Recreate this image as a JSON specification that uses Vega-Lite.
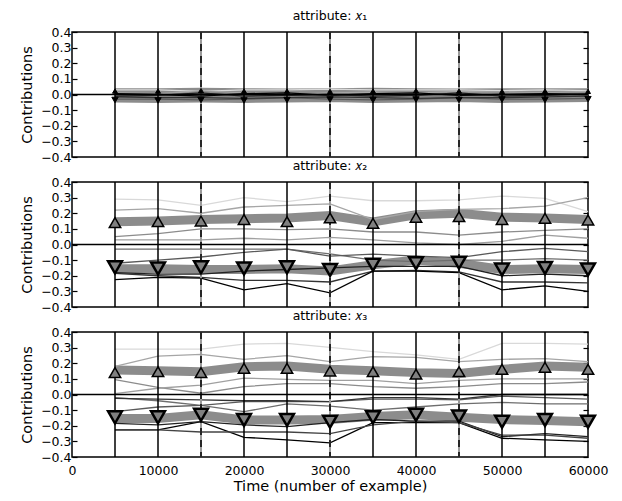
{
"$schema": "https://vega.github.io/schema/vega-lite/v6.json",
"background": "white",
"padding": {"left": 18, "top": 8, "right": 5, "bottom": 3},
"spacing": -7,
"config": {
 "view": {"stroke": "black", "strokeWidth": 1.5},
 "font": "DejaVu Sans",
 "axis": {"domain": false, "grid": false, "tickColor": "black", "tickWidth": 1.2, "labelColor": "black", "labelFont": "DejaVu Sans", "labelFontSize": 12.5, "titleFont": "DejaVu Sans", "titleFontSize": 14.5, "titleFontWeight": "normal", "titleColor": "black"},
 "axisY": {"tickSize": -5},
 "title": {"font": "DejaVu Sans", "fontSize": 12.5, "fontWeight": "normal", "color": "black", "offset": 4, "anchor": "middle"}
},
"datasets": {
 "vlines": [{"x":5000,"t":"s"},{"x":10000,"t":"s"},{"x":15000,"t":"d"},{"x":20000,"t":"s"},{"x":25000,"t":"s"},{"x":30000,"t":"d"},{"x":35000,"t":"s"},{"x":40000,"t":"s"},{"x":45000,"t":"d"},{"x":50000,"t":"s"},{"x":55000,"t":"s"}],
 "lines": [
{"p":1,"s":"A","x":5000,"y":0.03},{"p":1,"s":"A","x":10000,"y":0.03},{"p":1,"s":"A","x":15000,"y":0.02},{"p":1,"s":"A","x":20000,"y":0.03},{"p":1,"s":"A","x":25000,"y":0.03},{"p":1,"s":"A","x":30000,"y":0.035},{"p":1,"s":"A","x":35000,"y":0.03},{"p":1,"s":"A","x":40000,"y":0.03},{"p":1,"s":"A","x":45000,"y":0.03},{"p":1,"s":"A","x":50000,"y":0.025},{"p":1,"s":"A","x":55000,"y":0.03},{"p":1,"s":"A","x":60000,"y":0.025},
{"p":1,"s":"B","x":5000,"y":0.01},{"p":1,"s":"B","x":10000,"y":0.005},{"p":1,"s":"B","x":15000,"y":0.02},{"p":1,"s":"B","x":20000,"y":0.01},{"p":1,"s":"B","x":25000,"y":0},{"p":1,"s":"B","x":30000,"y":0.01},{"p":1,"s":"B","x":35000,"y":0.015},{"p":1,"s":"B","x":40000,"y":0.01},{"p":1,"s":"B","x":45000,"y":0.02},{"p":1,"s":"B","x":50000,"y":0.015},{"p":1,"s":"B","x":55000,"y":0.01},{"p":1,"s":"B","x":60000,"y":0.02},
{"p":1,"s":"C","x":5000,"y":-0.005},{"p":1,"s":"C","x":10000,"y":-0.01},{"p":1,"s":"C","x":15000,"y":0.02},{"p":1,"s":"C","x":20000,"y":0},{"p":1,"s":"C","x":25000,"y":-0.01},{"p":1,"s":"C","x":30000,"y":0.005},{"p":1,"s":"C","x":35000,"y":0},{"p":1,"s":"C","x":40000,"y":-0.01},{"p":1,"s":"C","x":45000,"y":0},{"p":1,"s":"C","x":50000,"y":0.01},{"p":1,"s":"C","x":55000,"y":0.005},{"p":1,"s":"C","x":60000,"y":0.01},
{"p":1,"s":"F","x":5000,"y":-0.03},{"p":1,"s":"F","x":10000,"y":-0.03},{"p":1,"s":"F","x":15000,"y":-0.035},{"p":1,"s":"F","x":20000,"y":-0.03},{"p":1,"s":"F","x":25000,"y":-0.02},{"p":1,"s":"F","x":30000,"y":-0.03},{"p":1,"s":"F","x":35000,"y":-0.035},{"p":1,"s":"F","x":40000,"y":-0.03},{"p":1,"s":"F","x":45000,"y":-0.02},{"p":1,"s":"F","x":50000,"y":-0.03},{"p":1,"s":"F","x":55000,"y":-0.03},{"p":1,"s":"F","x":60000,"y":-0.025},
{"p":1,"s":"G","x":5000,"y":-0.015},{"p":1,"s":"G","x":10000,"y":-0.02},{"p":1,"s":"G","x":15000,"y":-0.02},{"p":1,"s":"G","x":20000,"y":-0.025},{"p":1,"s":"G","x":25000,"y":-0.02},{"p":1,"s":"G","x":30000,"y":-0.015},{"p":1,"s":"G","x":35000,"y":-0.02},{"p":1,"s":"G","x":40000,"y":-0.025},{"p":1,"s":"G","x":45000,"y":-0.02},{"p":1,"s":"G","x":50000,"y":-0.02},{"p":1,"s":"G","x":55000,"y":-0.015},{"p":1,"s":"G","x":60000,"y":-0.01},
{"p":1,"s":"H","x":5000,"y":0.005},{"p":1,"s":"H","x":10000,"y":0},{"p":1,"s":"H","x":15000,"y":-0.01},{"p":1,"s":"H","x":20000,"y":0.005},{"p":1,"s":"H","x":25000,"y":0.01},{"p":1,"s":"H","x":30000,"y":-0.005},{"p":1,"s":"H","x":35000,"y":0.005},{"p":1,"s":"H","x":40000,"y":0.01},{"p":1,"s":"H","x":45000,"y":-0.005},{"p":1,"s":"H","x":50000,"y":0},{"p":1,"s":"H","x":55000,"y":0.005},{"p":1,"s":"H","x":60000,"y":0},
{"p":1,"s":"I","x":5000,"y":-0.01},{"p":1,"s":"I","x":10000,"y":-0.005},{"p":1,"s":"I","x":15000,"y":0.01},{"p":1,"s":"I","x":20000,"y":-0.01},{"p":1,"s":"I","x":25000,"y":-0.005},{"p":1,"s":"I","x":30000,"y":0},{"p":1,"s":"I","x":35000,"y":-0.01},{"p":1,"s":"I","x":40000,"y":-0.005},{"p":1,"s":"I","x":45000,"y":0.01},{"p":1,"s":"I","x":50000,"y":-0.01},{"p":1,"s":"I","x":55000,"y":-0.005},{"p":1,"s":"I","x":60000,"y":0.005},
{"p":2,"s":"A","x":5000,"y":0.29},{"p":2,"s":"A","x":10000,"y":0.285},{"p":2,"s":"A","x":15000,"y":0.25},{"p":2,"s":"A","x":20000,"y":0.3},{"p":2,"s":"A","x":25000,"y":0.275},{"p":2,"s":"A","x":30000,"y":0.31},{"p":2,"s":"A","x":35000,"y":0.28},{"p":2,"s":"A","x":40000,"y":0.28},{"p":2,"s":"A","x":45000,"y":0.285},{"p":2,"s":"A","x":50000,"y":0.31},{"p":2,"s":"A","x":55000,"y":0.295},{"p":2,"s":"A","x":60000,"y":0.21},
{"p":2,"s":"B","x":5000,"y":0.22},{"p":2,"s":"B","x":10000,"y":0.23},{"p":2,"s":"B","x":15000,"y":0.2},{"p":2,"s":"B","x":20000,"y":0.24},{"p":2,"s":"B","x":25000,"y":0.25},{"p":2,"s":"B","x":30000,"y":0.26},{"p":2,"s":"B","x":35000,"y":0.16},{"p":2,"s":"B","x":40000,"y":0.21},{"p":2,"s":"B","x":45000,"y":0.225},{"p":2,"s":"B","x":50000,"y":0.23},{"p":2,"s":"B","x":55000,"y":0.245},{"p":2,"s":"B","x":60000,"y":0.3},
{"p":2,"s":"C","x":5000,"y":0.05},{"p":2,"s":"C","x":10000,"y":0.07},{"p":2,"s":"C","x":15000,"y":0.1},{"p":2,"s":"C","x":20000,"y":0.1},{"p":2,"s":"C","x":25000,"y":0.095},{"p":2,"s":"C","x":30000,"y":0.1},{"p":2,"s":"C","x":35000,"y":0.08},{"p":2,"s":"C","x":40000,"y":0.08},{"p":2,"s":"C","x":45000,"y":0.06},{"p":2,"s":"C","x":50000,"y":0.08},{"p":2,"s":"C","x":55000,"y":0.09},{"p":2,"s":"C","x":60000,"y":0.1},
{"p":2,"s":"D","x":5000,"y":0.03},{"p":2,"s":"D","x":10000,"y":0.03},{"p":2,"s":"D","x":15000,"y":0.03},{"p":2,"s":"D","x":20000,"y":0.04},{"p":2,"s":"D","x":25000,"y":0.03},{"p":2,"s":"D","x":30000,"y":0.045},{"p":2,"s":"D","x":35000,"y":0.03},{"p":2,"s":"D","x":40000,"y":0.01},{"p":2,"s":"D","x":45000,"y":0},{"p":2,"s":"D","x":50000,"y":0.02},{"p":2,"s":"D","x":55000,"y":0.06},{"p":2,"s":"D","x":60000,"y":0.04},
{"p":2,"s":"E","x":5000,"y":-0.03},{"p":2,"s":"E","x":10000,"y":-0.03},{"p":2,"s":"E","x":15000,"y":-0.03},{"p":2,"s":"E","x":20000,"y":-0.03},{"p":2,"s":"E","x":25000,"y":-0.03},{"p":2,"s":"E","x":30000,"y":-0.06},{"p":2,"s":"E","x":35000,"y":-0.1},{"p":2,"s":"E","x":40000,"y":-0.11},{"p":2,"s":"E","x":45000,"y":-0.1},{"p":2,"s":"E","x":50000,"y":-0.1},{"p":2,"s":"E","x":55000,"y":-0.09},{"p":2,"s":"E","x":60000,"y":-0.1},
{"p":2,"s":"F","x":5000,"y":-0.12},{"p":2,"s":"F","x":10000,"y":-0.1},{"p":2,"s":"F","x":15000,"y":-0.08},{"p":2,"s":"F","x":20000,"y":-0.05},{"p":2,"s":"F","x":25000,"y":-0.03},{"p":2,"s":"F","x":30000,"y":-0.075},{"p":2,"s":"F","x":35000,"y":-0.062},{"p":2,"s":"F","x":40000,"y":-0.075},{"p":2,"s":"F","x":45000,"y":-0.084},{"p":2,"s":"F","x":50000,"y":-0.046},{"p":2,"s":"F","x":55000,"y":-0.025},{"p":2,"s":"F","x":60000,"y":-0.046},
{"p":2,"s":"G","x":5000,"y":-0.185},{"p":2,"s":"G","x":10000,"y":-0.2},{"p":2,"s":"G","x":15000,"y":-0.21},{"p":2,"s":"G","x":20000,"y":-0.23},{"p":2,"s":"G","x":25000,"y":-0.23},{"p":2,"s":"G","x":30000,"y":-0.24},{"p":2,"s":"G","x":35000,"y":-0.17},{"p":2,"s":"G","x":40000,"y":-0.165},{"p":2,"s":"G","x":45000,"y":-0.175},{"p":2,"s":"G","x":50000,"y":-0.24},{"p":2,"s":"G","x":55000,"y":-0.24},{"p":2,"s":"G","x":60000,"y":-0.245},
{"p":2,"s":"H","x":5000,"y":-0.225},{"p":2,"s":"H","x":10000,"y":-0.21},{"p":2,"s":"H","x":15000,"y":-0.215},{"p":2,"s":"H","x":20000,"y":-0.29},{"p":2,"s":"H","x":25000,"y":-0.25},{"p":2,"s":"H","x":30000,"y":-0.31},{"p":2,"s":"H","x":35000,"y":-0.17},{"p":2,"s":"H","x":40000,"y":-0.17},{"p":2,"s":"H","x":45000,"y":-0.18},{"p":2,"s":"H","x":50000,"y":-0.29},{"p":2,"s":"H","x":55000,"y":-0.265},{"p":2,"s":"H","x":60000,"y":-0.3},
{"p":2,"s":"I","x":5000,"y":-0.18},{"p":2,"s":"I","x":10000,"y":-0.19},{"p":2,"s":"I","x":15000,"y":-0.19},{"p":2,"s":"I","x":20000,"y":-0.17},{"p":2,"s":"I","x":25000,"y":-0.16},{"p":2,"s":"I","x":30000,"y":-0.15},{"p":2,"s":"I","x":35000,"y":-0.14},{"p":2,"s":"I","x":40000,"y":-0.14},{"p":2,"s":"I","x":45000,"y":-0.14},{"p":2,"s":"I","x":50000,"y":-0.2},{"p":2,"s":"I","x":55000,"y":-0.19},{"p":2,"s":"I","x":60000,"y":-0.2},
{"p":3,"s":"A","x":5000,"y":0.291},{"p":3,"s":"A","x":10000,"y":0.291},{"p":3,"s":"A","x":15000,"y":0.291},{"p":3,"s":"A","x":20000,"y":0.323},{"p":3,"s":"A","x":25000,"y":0.327},{"p":3,"s":"A","x":30000,"y":0.302},{"p":3,"s":"A","x":35000,"y":0.274},{"p":3,"s":"A","x":40000,"y":0.253},{"p":3,"s":"A","x":45000,"y":0.225},{"p":3,"s":"A","x":50000,"y":0.327},{"p":3,"s":"A","x":55000,"y":0.327},{"p":3,"s":"A","x":60000,"y":0.323},
{"p":3,"s":"B","x":5000,"y":0.18},{"p":3,"s":"B","x":10000,"y":0.245},{"p":3,"s":"B","x":15000,"y":0.257},{"p":3,"s":"B","x":20000,"y":0.225},{"p":3,"s":"B","x":25000,"y":0.249},{"p":3,"s":"B","x":30000,"y":0.21},{"p":3,"s":"B","x":35000,"y":0.242},{"p":3,"s":"B","x":40000,"y":0.238},{"p":3,"s":"B","x":45000,"y":0.21},{"p":3,"s":"B","x":50000,"y":0.225},{"p":3,"s":"B","x":55000,"y":0.23},{"p":3,"s":"B","x":60000,"y":0.21},
{"p":3,"s":"C","x":5000,"y":0.095},{"p":3,"s":"C","x":10000,"y":0.045},{"p":3,"s":"C","x":15000,"y":0.008},{"p":3,"s":"C","x":20000,"y":0.05},{"p":3,"s":"C","x":25000,"y":0.07},{"p":3,"s":"C","x":30000,"y":0.07},{"p":3,"s":"C","x":35000,"y":0.05},{"p":3,"s":"C","x":40000,"y":0.04},{"p":3,"s":"C","x":45000,"y":0.05},{"p":3,"s":"C","x":50000,"y":0.07},{"p":3,"s":"C","x":55000,"y":0.07},{"p":3,"s":"C","x":60000,"y":0.08},
{"p":3,"s":"D","x":5000,"y":0.005},{"p":3,"s":"D","x":10000,"y":0.04},{"p":3,"s":"D","x":15000,"y":0.06},{"p":3,"s":"D","x":20000,"y":0.105},{"p":3,"s":"D","x":25000,"y":0.097},{"p":3,"s":"D","x":30000,"y":0.09},{"p":3,"s":"D","x":35000,"y":0.09},{"p":3,"s":"D","x":40000,"y":0.07},{"p":3,"s":"D","x":45000,"y":0.09},{"p":3,"s":"D","x":50000,"y":0.1},{"p":3,"s":"D","x":55000,"y":0.1},{"p":3,"s":"D","x":60000,"y":0.1},
{"p":3,"s":"E","x":5000,"y":-0.02},{"p":3,"s":"E","x":10000,"y":-0.04},{"p":3,"s":"E","x":15000,"y":-0.07},{"p":3,"s":"E","x":20000,"y":-0.11},{"p":3,"s":"E","x":25000,"y":-0.06},{"p":3,"s":"E","x":30000,"y":-0.075},{"p":3,"s":"E","x":35000,"y":-0.1},{"p":3,"s":"E","x":40000,"y":-0.08},{"p":3,"s":"E","x":45000,"y":-0.06},{"p":3,"s":"E","x":50000,"y":-0.05},{"p":3,"s":"E","x":55000,"y":-0.06},{"p":3,"s":"E","x":60000,"y":-0.06},
{"p":3,"s":"F","x":5000,"y":-0.11},{"p":3,"s":"F","x":10000,"y":-0.08},{"p":3,"s":"F","x":15000,"y":-0.07},{"p":3,"s":"F","x":20000,"y":-0.046},{"p":3,"s":"F","x":25000,"y":-0.046},{"p":3,"s":"F","x":30000,"y":-0.046},{"p":3,"s":"F","x":35000,"y":-0.03},{"p":3,"s":"F","x":40000,"y":-0.03},{"p":3,"s":"F","x":45000,"y":-0.035},{"p":3,"s":"F","x":50000,"y":-0.01},{"p":3,"s":"F","x":55000,"y":-0.02},{"p":3,"s":"F","x":60000,"y":-0.03},
{"p":3,"s":"G","x":5000,"y":-0.025},{"p":3,"s":"G","x":10000,"y":-0.03},{"p":3,"s":"G","x":15000,"y":-0.035},{"p":3,"s":"G","x":20000,"y":-0.04},{"p":3,"s":"G","x":25000,"y":-0.04},{"p":3,"s":"G","x":30000,"y":-0.045},{"p":3,"s":"G","x":35000,"y":-0.02},{"p":3,"s":"G","x":40000,"y":-0.02},{"p":3,"s":"G","x":45000,"y":-0.03},{"p":3,"s":"G","x":50000,"y":0},{"p":3,"s":"G","x":55000,"y":0},{"p":3,"s":"G","x":60000,"y":0},
{"p":3,"s":"H","x":5000,"y":-0.227},{"p":3,"s":"H","x":10000,"y":-0.227},{"p":3,"s":"H","x":15000,"y":-0.174},{"p":3,"s":"H","x":20000,"y":-0.274},{"p":3,"s":"H","x":25000,"y":-0.29},{"p":3,"s":"H","x":30000,"y":-0.31},{"p":3,"s":"H","x":35000,"y":-0.18},{"p":3,"s":"H","x":40000,"y":-0.18},{"p":3,"s":"H","x":45000,"y":-0.18},{"p":3,"s":"H","x":50000,"y":-0.28},{"p":3,"s":"H","x":55000,"y":-0.29},{"p":3,"s":"H","x":60000,"y":-0.3},
{"p":3,"s":"I","x":5000,"y":-0.185},{"p":3,"s":"I","x":10000,"y":-0.195},{"p":3,"s":"I","x":15000,"y":-0.174},{"p":3,"s":"I","x":20000,"y":-0.195},{"p":3,"s":"I","x":25000,"y":-0.206},{"p":3,"s":"I","x":30000,"y":-0.18},{"p":3,"s":"I","x":35000,"y":-0.16},{"p":3,"s":"I","x":40000,"y":-0.17},{"p":3,"s":"I","x":45000,"y":-0.17},{"p":3,"s":"I","x":50000,"y":-0.27},{"p":3,"s":"I","x":55000,"y":-0.25},{"p":3,"s":"I","x":60000,"y":-0.27},
{"p":3,"s":"J","x":5000,"y":-0.227},{"p":3,"s":"J","x":10000,"y":-0.227},{"p":3,"s":"J","x":15000,"y":-0.24},{"p":3,"s":"J","x":20000,"y":-0.24},{"p":3,"s":"J","x":25000,"y":-0.24},{"p":3,"s":"J","x":30000,"y":-0.25},{"p":3,"s":"J","x":35000,"y":-0.195},{"p":3,"s":"J","x":40000,"y":-0.17},{"p":3,"s":"J","x":45000,"y":-0.18},{"p":3,"s":"J","x":50000,"y":-0.26},{"p":3,"s":"J","x":55000,"y":-0.26},{"p":3,"s":"J","x":60000,"y":-0.28}
 ],
 "bands": [
{"p":1,"s":"up","x":5000,"y":0.012},{"p":1,"s":"up","x":10000,"y":0.012},{"p":1,"s":"up","x":15000,"y":0.015},{"p":1,"s":"up","x":20000,"y":0.012},{"p":1,"s":"up","x":25000,"y":0.01},{"p":1,"s":"up","x":30000,"y":0.012},{"p":1,"s":"up","x":35000,"y":0.015},{"p":1,"s":"up","x":40000,"y":0.012},{"p":1,"s":"up","x":45000,"y":0.01},{"p":1,"s":"up","x":50000,"y":0.012},{"p":1,"s":"up","x":55000,"y":0.012},{"p":1,"s":"up","x":60000,"y":0.012},
{"p":1,"s":"down","x":5000,"y":-0.022},{"p":1,"s":"down","x":10000,"y":-0.025},{"p":1,"s":"down","x":15000,"y":-0.022},{"p":1,"s":"down","x":20000,"y":-0.025},{"p":1,"s":"down","x":25000,"y":-0.022},{"p":1,"s":"down","x":30000,"y":-0.02},{"p":1,"s":"down","x":35000,"y":-0.025},{"p":1,"s":"down","x":40000,"y":-0.022},{"p":1,"s":"down","x":45000,"y":-0.02},{"p":1,"s":"down","x":50000,"y":-0.025},{"p":1,"s":"down","x":55000,"y":-0.022},{"p":1,"s":"down","x":60000,"y":-0.02},
{"p":2,"s":"up","x":5000,"y":0.145},{"p":2,"s":"up","x":10000,"y":0.15},{"p":2,"s":"up","x":15000,"y":0.16},{"p":2,"s":"up","x":20000,"y":0.165},{"p":2,"s":"up","x":25000,"y":0.17},{"p":2,"s":"up","x":30000,"y":0.185},{"p":2,"s":"up","x":35000,"y":0.145},{"p":2,"s":"up","x":40000,"y":0.19},{"p":2,"s":"up","x":45000,"y":0.2},{"p":2,"s":"up","x":50000,"y":0.175},{"p":2,"s":"up","x":55000,"y":0.17},{"p":2,"s":"up","x":60000,"y":0.16},
{"p":2,"s":"down","x":5000,"y":-0.155},{"p":2,"s":"down","x":10000,"y":-0.155},{"p":2,"s":"down","x":15000,"y":-0.16},{"p":2,"s":"down","x":20000,"y":-0.16},{"p":2,"s":"down","x":25000,"y":-0.155},{"p":2,"s":"down","x":30000,"y":-0.17},{"p":2,"s":"down","x":35000,"y":-0.13},{"p":2,"s":"down","x":40000,"y":-0.1},{"p":2,"s":"down","x":45000,"y":-0.12},{"p":2,"s":"down","x":50000,"y":-0.16},{"p":2,"s":"down","x":55000,"y":-0.155},{"p":2,"s":"down","x":60000,"y":-0.16},
{"p":3,"s":"up","x":5000,"y":0.157},{"p":3,"s":"up","x":10000,"y":0.152},{"p":3,"s":"up","x":15000,"y":0.146},{"p":3,"s":"up","x":20000,"y":0.178},{"p":3,"s":"up","x":25000,"y":0.182},{"p":3,"s":"up","x":30000,"y":0.161},{"p":3,"s":"up","x":35000,"y":0.152},{"p":3,"s":"up","x":40000,"y":0.14},{"p":3,"s":"up","x":45000,"y":0.135},{"p":3,"s":"up","x":50000,"y":0.161},{"p":3,"s":"up","x":55000,"y":0.182},{"p":3,"s":"up","x":60000,"y":0.174},
{"p":3,"s":"down","x":5000,"y":-0.153},{"p":3,"s":"down","x":10000,"y":-0.153},{"p":3,"s":"down","x":15000,"y":-0.13},{"p":3,"s":"down","x":20000,"y":-0.163},{"p":3,"s":"down","x":25000,"y":-0.163},{"p":3,"s":"down","x":30000,"y":-0.16},{"p":3,"s":"down","x":35000,"y":-0.14},{"p":3,"s":"down","x":40000,"y":-0.13},{"p":3,"s":"down","x":45000,"y":-0.146},{"p":3,"s":"down","x":50000,"y":-0.16},{"p":3,"s":"down","x":55000,"y":-0.167},{"p":3,"s":"down","x":60000,"y":-0.174}
 ],
 "marks": [
{"p":1,"s":"up","x":5000,"y":0.022},{"p":1,"s":"up","x":10000,"y":0.022},{"p":1,"s":"up","x":15000,"y":0.025},{"p":1,"s":"up","x":20000,"y":0.022},{"p":1,"s":"up","x":25000,"y":0.022},{"p":1,"s":"up","x":30000,"y":0.02},{"p":1,"s":"up","x":35000,"y":0.022},{"p":1,"s":"up","x":40000,"y":0.025},{"p":1,"s":"up","x":45000,"y":0.022},{"p":1,"s":"up","x":50000,"y":0.02},{"p":1,"s":"up","x":55000,"y":0.022},{"p":1,"s":"up","x":60000,"y":0.02},
{"p":1,"s":"down","x":5000,"y":-0.035},{"p":1,"s":"down","x":10000,"y":-0.038},{"p":1,"s":"down","x":15000,"y":-0.035},{"p":1,"s":"down","x":20000,"y":-0.038},{"p":1,"s":"down","x":25000,"y":-0.035},{"p":1,"s":"down","x":30000,"y":-0.032},{"p":1,"s":"down","x":35000,"y":-0.035},{"p":1,"s":"down","x":40000,"y":-0.032},{"p":1,"s":"down","x":45000,"y":-0.035},{"p":1,"s":"down","x":50000,"y":-0.032},{"p":1,"s":"down","x":55000,"y":-0.035},{"p":1,"s":"down","x":60000,"y":-0.03},
{"p":2,"s":"up","x":5000,"y":0.14},{"p":2,"s":"up","x":10000,"y":0.146},{"p":2,"s":"up","x":15000,"y":0.15},{"p":2,"s":"up","x":20000,"y":0.16},{"p":2,"s":"up","x":25000,"y":0.146},{"p":2,"s":"up","x":30000,"y":0.17},{"p":2,"s":"up","x":35000,"y":0.135},{"p":2,"s":"up","x":40000,"y":0.174},{"p":2,"s":"up","x":45000,"y":0.178},{"p":2,"s":"up","x":50000,"y":0.16},{"p":2,"s":"up","x":55000,"y":0.167},{"p":2,"s":"up","x":60000,"y":0.157},
{"p":2,"s":"down","x":5000,"y":-0.146},{"p":2,"s":"down","x":10000,"y":-0.153},{"p":2,"s":"down","x":15000,"y":-0.146},{"p":2,"s":"down","x":20000,"y":-0.153},{"p":2,"s":"down","x":25000,"y":-0.146},{"p":2,"s":"down","x":30000,"y":-0.163},{"p":2,"s":"down","x":35000,"y":-0.13},{"p":2,"s":"down","x":40000,"y":-0.12},{"p":2,"s":"down","x":45000,"y":-0.116},{"p":2,"s":"down","x":50000,"y":-0.16},{"p":2,"s":"down","x":55000,"y":-0.15},{"p":2,"s":"down","x":60000,"y":-0.16},
{"p":3,"s":"up","x":5000,"y":0.14},{"p":3,"s":"up","x":10000,"y":0.146},{"p":3,"s":"up","x":15000,"y":0.14},{"p":3,"s":"up","x":20000,"y":0.167},{"p":3,"s":"up","x":25000,"y":0.167},{"p":3,"s":"up","x":30000,"y":0.15},{"p":3,"s":"up","x":35000,"y":0.146},{"p":3,"s":"up","x":40000,"y":0.13},{"p":3,"s":"up","x":45000,"y":0.146},{"p":3,"s":"up","x":50000,"y":0.161},{"p":3,"s":"up","x":55000,"y":0.174},{"p":3,"s":"up","x":60000,"y":0.161},
{"p":3,"s":"down","x":5000,"y":-0.146},{"p":3,"s":"down","x":10000,"y":-0.146},{"p":3,"s":"down","x":15000,"y":-0.13},{"p":3,"s":"down","x":20000,"y":-0.163},{"p":3,"s":"down","x":25000,"y":-0.163},{"p":3,"s":"down","x":30000,"y":-0.174},{"p":3,"s":"down","x":35000,"y":-0.146},{"p":3,"s":"down","x":40000,"y":-0.13},{"p":3,"s":"down","x":45000,"y":-0.14},{"p":3,"s":"down","x":50000,"y":-0.174},{"p":3,"s":"down","x":55000,"y":-0.163},{"p":3,"s":"down","x":60000,"y":-0.174}
 ]
},
"vconcat": [
{
 "width": 516, "height": 125,
 "title": "attribute: 𝑥₁",
 "resolve": {"axis": {"y": "independent"}},
 "layer": [
  {"data": {"name": "bands"}, "transform": [{"filter": "datum.p == 1"}], "mark": {"type": "line", "color": "#808080", "strokeWidth": 9, "opacity": 0.9},
   "encoding": {"x": {"field": "x", "type": "quantitative", "scale": {"domain": [0, 60000], "nice": false}, "axis": null},
    "y": {"field": "y", "type": "quantitative", "scale": {"domain": [-0.4, 0.4], "nice": false}, "axis": {"values": [-0.4,-0.3,-0.2,-0.1,0,0.1,0.2,0.3,0.4], "format": ".1f", "labelPadding": 6, "title": "Contributions", "titlePadding": 6}},
    "detail": {"field": "s"}}},
  {"data": {"name": "lines"}, "transform": [{"filter": "datum.p == 1"}], "mark": {"type": "line", "strokeWidth": 1.3},
   "encoding": {"x": {"field": "x", "type": "quantitative", "axis": null}, "y": {"field": "y", "type": "quantitative", "axis": null},
    "color": {"field": "s", "type": "nominal", "legend": null, "scale": {"domain": ["A","B","C","D","E","F","G","H","I","J"], "range": ["#d9d9d9","#a6a6a6","#8c8c8c","#a0a0a0","#6e6e6e","#5a5a5a","#333333","#000000","#222222","#444444"]}}}},
  {"data": {"name": "vlines"}, "transform": [{"filter": "datum.t == 's'"}], "mark": {"type": "rule", "color": "black", "strokeWidth": 1.5}, "encoding": {"x": {"field": "x", "type": "quantitative", "axis": null}}},
  {"data": {"name": "vlines"}, "transform": [{"filter": "datum.t == 'd'"}], "mark": {"type": "rule", "color": "#9a9a9a", "strokeWidth": 2}, "encoding": {"x": {"field": "x", "type": "quantitative", "axis": null}}},
  {"data": {"name": "vlines"}, "transform": [{"filter": "datum.t == 'd'"}], "mark": {"type": "rule", "color": "black", "strokeWidth": 1.5, "strokeDash": [7, 5]}, "encoding": {"x": {"field": "x", "type": "quantitative", "axis": null}}},
  {"data": {"values": [{"z": 0}]}, "mark": {"type": "rule", "color": "black", "strokeWidth": 1.5}, "encoding": {"y": {"field": "z", "type": "quantitative", "axis": {"orient": "right", "values": [-0.4,-0.3,-0.2,-0.1,0,0.1,0.2,0.3,0.4], "labels": false, "title": null, "minExtent": 0, "maxExtent": 0}}}},
  {"data": {"name": "marks"}, "transform": [{"filter": "datum.p == 1 && datum.s == 'up'"}], "mark": {"type": "point", "shape": "triangle-up", "filled": true, "fill": "black", "stroke": "black", "strokeWidth": 1, "size": 25, "opacity": 1},
   "encoding": {"x": {"field": "x", "type": "quantitative", "axis": null}, "y": {"field": "y", "type": "quantitative", "axis": null}}},
  {"data": {"name": "marks"}, "transform": [{"filter": "datum.p == 1 && datum.s == 'down'"}], "mark": {"type": "point", "shape": "triangle-down", "filled": true, "fill": "black", "stroke": "black", "strokeWidth": 1, "size": 40, "opacity": 1},
   "encoding": {"x": {"field": "x", "type": "quantitative", "axis": null}, "y": {"field": "y", "type": "quantitative", "axis": null}}}
 ]
},
{
 "width": 516, "height": 125,
 "title": "attribute: 𝑥₂",
 "resolve": {"axis": {"y": "independent"}},
 "layer": [
  {"data": {"name": "bands"}, "transform": [{"filter": "datum.p == 2"}], "mark": {"type": "line", "color": "#808080", "strokeWidth": 9, "opacity": 0.9},
   "encoding": {"x": {"field": "x", "type": "quantitative", "scale": {"domain": [0, 60000], "nice": false}, "axis": null},
    "y": {"field": "y", "type": "quantitative", "scale": {"domain": [-0.4, 0.4], "nice": false}, "axis": {"values": [-0.4,-0.3,-0.2,-0.1,0,0.1,0.2,0.3,0.4], "format": ".1f", "labelPadding": 6, "title": "Contributions", "titlePadding": 6}},
    "detail": {"field": "s"}}},
  {"data": {"name": "lines"}, "transform": [{"filter": "datum.p == 2"}], "mark": {"type": "line", "strokeWidth": 1.3},
   "encoding": {"x": {"field": "x", "type": "quantitative", "axis": null}, "y": {"field": "y", "type": "quantitative", "axis": null},
    "color": {"field": "s", "type": "nominal", "legend": null, "scale": {"domain": ["A","B","C","D","E","F","G","H","I","J"], "range": ["#d9d9d9","#a6a6a6","#8c8c8c","#a0a0a0","#6e6e6e","#5a5a5a","#333333","#000000","#222222","#444444"]}}}},
  {"data": {"name": "vlines"}, "transform": [{"filter": "datum.t == 's'"}], "mark": {"type": "rule", "color": "black", "strokeWidth": 1.5}, "encoding": {"x": {"field": "x", "type": "quantitative", "axis": null}}},
  {"data": {"name": "vlines"}, "transform": [{"filter": "datum.t == 'd'"}], "mark": {"type": "rule", "color": "#9a9a9a", "strokeWidth": 2}, "encoding": {"x": {"field": "x", "type": "quantitative", "axis": null}}},
  {"data": {"name": "vlines"}, "transform": [{"filter": "datum.t == 'd'"}], "mark": {"type": "rule", "color": "black", "strokeWidth": 1.5, "strokeDash": [7, 5]}, "encoding": {"x": {"field": "x", "type": "quantitative", "axis": null}}},
  {"data": {"values": [{"z": 0}]}, "mark": {"type": "rule", "color": "black", "strokeWidth": 1.5}, "encoding": {"y": {"field": "z", "type": "quantitative", "axis": {"orient": "right", "values": [-0.4,-0.3,-0.2,-0.1,0,0.1,0.2,0.3,0.4], "labels": false, "title": null, "minExtent": 0, "maxExtent": 0}}}},
  {"data": {"name": "marks"}, "transform": [{"filter": "datum.p == 2 && datum.s == 'up'"}], "mark": {"type": "point", "shape": "triangle-up", "filled": true, "fill": "#808080", "stroke": "black", "strokeWidth": 1.5, "size": 130, "opacity": 1},
   "encoding": {"x": {"field": "x", "type": "quantitative", "axis": null}, "y": {"field": "y", "type": "quantitative", "axis": null}}},
  {"data": {"name": "marks"}, "transform": [{"filter": "datum.p == 2 && datum.s == 'down'"}], "mark": {"type": "point", "shape": "triangle-down", "filled": true, "fill": "#808080", "stroke": "black", "strokeWidth": 2.5, "size": 190, "opacity": 1},
   "encoding": {"x": {"field": "x", "type": "quantitative", "axis": null}, "y": {"field": "y", "type": "quantitative", "axis": null}}}
 ]
},
{
 "width": 516, "height": 125,
 "title": "attribute: 𝑥₃",
 "resolve": {"axis": {"y": "independent"}},
 "layer": [
  {"data": {"name": "bands"}, "transform": [{"filter": "datum.p == 3"}], "mark": {"type": "line", "color": "#808080", "strokeWidth": 9, "opacity": 0.9},
   "encoding": {"x": {"field": "x", "type": "quantitative", "scale": {"domain": [0, 60000], "nice": false}, "axis": {"values": [0,10000,20000,30000,40000,50000,60000], "format": "d", "labelFlush": false, "ticks": false, "labelPadding": 7, "title": "Time (number of example)", "titlePadding": 3}},
    "y": {"field": "y", "type": "quantitative", "scale": {"domain": [-0.4, 0.4], "nice": false}, "axis": {"values": [-0.4,-0.3,-0.2,-0.1,0,0.1,0.2,0.3,0.4], "format": ".1f", "labelPadding": 6, "title": "Contributions", "titlePadding": 6}},
    "detail": {"field": "s"}}},
  {"data": {"name": "lines"}, "transform": [{"filter": "datum.p == 3"}], "mark": {"type": "line", "strokeWidth": 1.3},
   "encoding": {"x": {"field": "x", "type": "quantitative"}, "y": {"field": "y", "type": "quantitative", "axis": null},
    "color": {"field": "s", "type": "nominal", "legend": null, "scale": {"domain": ["A","B","C","D","E","F","G","H","I","J"], "range": ["#d9d9d9","#a6a6a6","#8c8c8c","#a0a0a0","#6e6e6e","#5a5a5a","#333333","#000000","#222222","#444444"]}}}},
  {"data": {"name": "vlines"}, "transform": [{"filter": "datum.t == 's'"}], "mark": {"type": "rule", "color": "black", "strokeWidth": 1.5}, "encoding": {"x": {"field": "x", "type": "quantitative"}}},
  {"data": {"name": "vlines"}, "transform": [{"filter": "datum.t == 'd'"}], "mark": {"type": "rule", "color": "#9a9a9a", "strokeWidth": 2}, "encoding": {"x": {"field": "x", "type": "quantitative"}}},
  {"data": {"name": "vlines"}, "transform": [{"filter": "datum.t == 'd'"}], "mark": {"type": "rule", "color": "black", "strokeWidth": 1.5, "strokeDash": [7, 5]}, "encoding": {"x": {"field": "x", "type": "quantitative"}}},
  {"data": {"values": [{"z": 0}]}, "mark": {"type": "rule", "color": "black", "strokeWidth": 1.5}, "encoding": {"y": {"field": "z", "type": "quantitative", "axis": {"orient": "right", "values": [-0.4,-0.3,-0.2,-0.1,0,0.1,0.2,0.3,0.4], "labels": false, "title": null, "minExtent": 0, "maxExtent": 0}}}},
  {"data": {"name": "marks"}, "transform": [{"filter": "datum.p == 3 && datum.s == 'up'"}], "mark": {"type": "point", "shape": "triangle-up", "filled": true, "fill": "#808080", "stroke": "black", "strokeWidth": 1.5, "size": 130, "opacity": 1},
   "encoding": {"x": {"field": "x", "type": "quantitative"}, "y": {"field": "y", "type": "quantitative", "axis": null}}},
  {"data": {"name": "marks"}, "transform": [{"filter": "datum.p == 3 && datum.s == 'down'"}], "mark": {"type": "point", "shape": "triangle-down", "filled": true, "fill": "#808080", "stroke": "black", "strokeWidth": 2.5, "size": 190, "opacity": 1},
   "encoding": {"x": {"field": "x", "type": "quantitative"}, "y": {"field": "y", "type": "quantitative", "axis": null}}}
 ]
}
]
}
